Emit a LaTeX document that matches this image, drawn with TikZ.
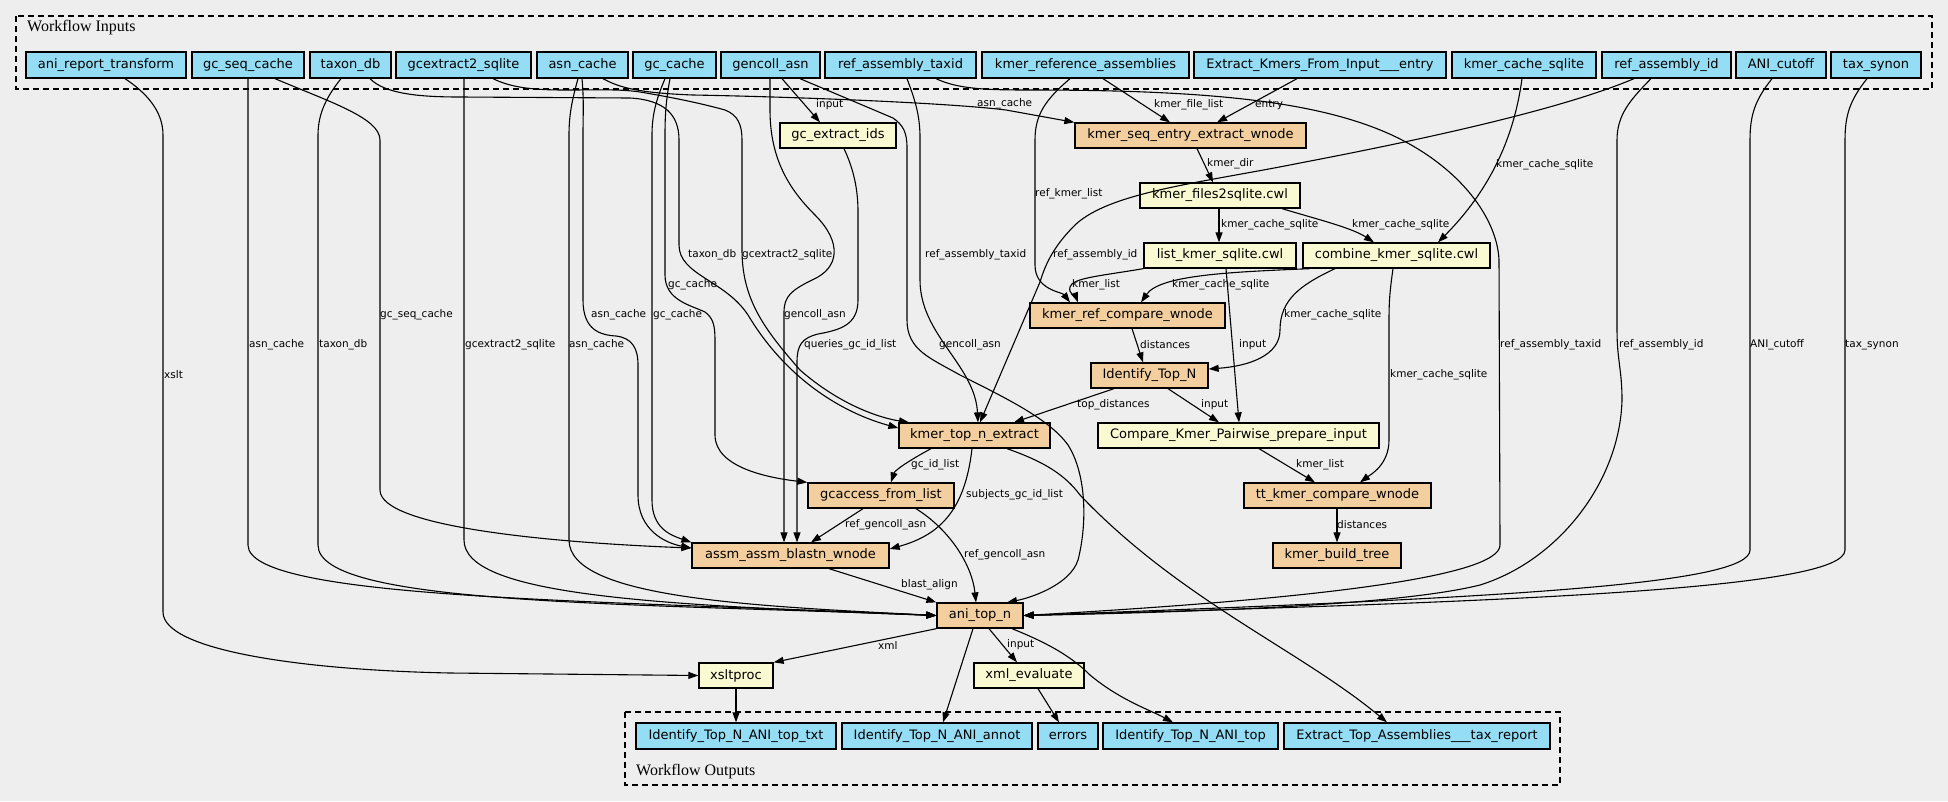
\documentclass[tikz,border=0pt]{standalone}
\usepackage{fontspec}
\setmainfont{DejaVu Sans}
\newfontfamily\clusfont{Liberation Serif}
\usetikzlibrary{arrows.meta}
\definecolor{bgc}{HTML}{EEEEEE}
\definecolor{inb}{HTML}{94DDF4}
\definecolor{stc}{HTML}{F3CF9F}
\definecolor{tlc}{HTML}{FAFAD2}
\begin{document}
\begin{tikzpicture}[x=1pt,y=-1pt,
  nb/.style={draw=black,line width=1.3pt,inner sep=0pt,minimum height=25pt,font=\fontsize{13}{15}\selectfont},
  inp/.style={nb,fill=inb,minimum height=26pt},
  stp/.style={nb,fill=stc},
  tl/.style={nb,fill=tlc},
  e/.style={line width=1.1pt,-{Triangle[length=10pt,width=7pt]}},
  lb/.style={font=\fontsize{10.5}{12}\selectfont,inner sep=0pt,anchor=west},
  cl/.style={line width=1.2pt,dash pattern=on 6pt off 4pt},
  cll/.style={font=\clusfont\fontsize{16}{18}\selectfont,anchor=west,inner sep=0pt}]
\useasboundingbox (0,0) rectangle (1948,801);
\fill[bgc] (0,0) rectangle (1948,801);
% clusters
\draw[cl] (16,16) rectangle (1932,89);
\node[cll] (cin) at (27,28) {Workflow Inputs};
\draw[cl] (625,712) rectangle (1560,785);
\node[cll] (cout) at (636,772) {Workflow Outputs};
% inputs
\node[inp,minimum width=160pt] (in1) at (106,65) {ani\_report\_transform};
\node[inp,minimum width=112pt] (in2) at (248,65) {gc\_seq\_cache};
\node[inp,minimum width=81pt] (in3) at (350.5,65) {taxon\_db};
\node[inp,minimum width=135pt] (in4) at (463.5,65) {gcextract2\_sqlite};
\node[inp,minimum width=91pt] (in5) at (582.5,65) {asn\_cache};
\node[inp,minimum width=83pt] (in6) at (674.5,65) {gc\_cache};
\node[inp,minimum width=99pt] (in7) at (770.5,65) {gencoll\_asn};
\node[inp,minimum width=151pt] (in8) at (900.5,65) {ref\_assembly\_taxid};
\node[inp,minimum width=207pt] (in9) at (1085.5,65) {kmer\_reference\_assemblies};
\node[inp,minimum width=252pt] (in10) at (1320,65) {Extract\_Kmers\_From\_Input\_\_\_entry};
\node[inp,minimum width=144pt] (in11) at (1524,65) {kmer\_cache\_sqlite};
\node[inp,minimum width=129pt] (in12) at (1666.5,65) {ref\_assembly\_id};
\node[inp,minimum width=90pt] (in13) at (1781,65) {ANI\_cutoff};
\node[inp,minimum width=90pt] (in14) at (1876,65) {tax\_synon};
% steps
\node[tl,minimum width=116pt] (gce) at (838,135.5) {gc\_extract\_ids};
\node[stp,minimum width=231pt] (kse) at (1190.5,135.5) {kmer\_seq\_entry\_extract\_wnode};
\node[tl,minimum width=160pt] (kf2) at (1220,195.5) {kmer\_files2sqlite.cwl};
\node[tl,minimum width=152pt] (lks) at (1220,255.5) {list\_kmer\_sqlite.cwl};
\node[tl,minimum width=187pt] (comb) at (1396.5,255.5) {combine\_kmer\_sqlite.cwl};
\node[stp,minimum width=195pt] (krc) at (1127.5,315.5) {kmer\_ref\_compare\_wnode};
\node[stp,minimum width=117pt] (itn) at (1149.5,375.5) {Identify\_Top\_N};
\node[stp,minimum width=151pt] (kte) at (974.5,435.5) {kmer\_top\_n\_extract};
\node[tl,minimum width=281pt] (cmp) at (1238.5,435.5) {Compare\_Kmer\_Pairwise\_prepare\_input};
\node[stp,minimum width=146pt] (gca) at (881,495.5) {gcaccess\_from\_list};
\node[stp,minimum width=187pt] (tt) at (1337.5,495.5) {tt\_kmer\_compare\_wnode};
\node[stp,minimum width=197pt] (assm) at (790.5,555.5) {assm\_assm\_blastn\_wnode};
\node[stp,minimum width=128pt] (kbt) at (1337,555.5) {kmer\_build\_tree};
\node[stp,minimum width=86pt] (ani) at (980,615.5) {ani\_top\_n};
\node[tl,minimum width=74pt] (xsl) at (736,675.5) {xsltproc};
\node[tl,minimum width=110pt] (xmle) at (1029,675.5) {xml\_evaluate};
% outputs
\node[inp,minimum width=200pt] (o1) at (736,736) {Identify\_Top\_N\_ANI\_top\_txt};
\node[inp,minimum width=190pt] (o2) at (937,736) {Identify\_Top\_N\_ANI\_annot};
\node[inp,minimum width=60pt] (o3) at (1068,736) {errors};
\node[inp,minimum width=175pt] (o4) at (1190.5,736) {Identify\_Top\_N\_ANI\_top};
\node[inp,minimum width=266pt] (o5) at (1417,736) {Extract\_Top\_Assemblies\_\_\_tax\_report};
% edges from inputs
\draw[e] (in1.south -| 125,0) .. controls (145,92) and (163,110) .. (163,135) -- (163,612) .. controls (163,650) and (300,670) .. (450,673) -- (xsl.west);
\draw[e] (in2.south) -- (248,545) .. controls (248,600) and (600,600) .. (ani.west);
\draw[e] (in2.south -| 275,0) .. controls (330,102) and (380,118) .. (380,140) -- (380,490) .. controls (380,528) and (560,543) .. (assm.west |- 0,548);
\draw[e] (in3.south -| 341,0) .. controls (328,95) and (318,112) .. (318,135) -- (318,545) .. controls (318,605) and (620,603) .. (ani.west);
\draw[e] (in3.south -| 370,0) .. controls (385,94) and (420,97) .. (460,97) -- (630,98) .. controls (665,100) and (679,115) .. (679,140) -- (679,245) .. controls (679,275) and (725,280) .. (748,315) .. controls (790,385) and (850,415) .. (kte.west |- 0,428);
\draw[e] (in4.south -| 464,0) -- (464,540) .. controls (464,595) and (650,605) .. (ani.west);
\draw[e] (in4.south -| 493,0) .. controls (510,87) and (530,90) .. (565,90) .. controls (600,90) and (620,89) .. (640,92) .. controls (670,97) and (700,103) .. (725,110) .. controls (738,115) and (742,125) .. (742,140) -- (742,250) .. controls (742,300) and (765,330) .. (800,370) .. controls (840,405) and (880,418) .. (kte.north -| 909,0);
\draw[e] (in5.south -| 603,0) .. controls (620,88) and (640,93) .. (693,95) .. controls (800,97) and (950,103) .. (1006,110) -- (kse.north west);
\draw[e] (in5.south -| 578,0) .. controls (572,100) and (569,115) .. (569,135) -- (569,540) .. controls (569,598) and (750,606) .. (ani.west);
\draw[e] (in5.south -| 582,0) .. controls (584,100) and (583,115) .. (583,135) -- (583,300) .. controls (583,330) and (600,335) .. (616,336) .. controls (632,338) and (638,348) .. (638,365) -- (638,495) .. controls (638,530) and (665,543) .. (assm.west |- 0,548);
\draw[e] (in6.south -| 670,0) .. controls (666,100) and (665,115) .. (665,135) -- (665,275) .. controls (665,300) and (690,305) .. (705,312) .. controls (713,318) and (715,325) .. (715,340) -- (715,435) .. controls (715,468) and (770,478) .. (gca.north west);
\draw[e] (in6.south -| 665,0) .. controls (656,100) and (652,115) .. (652,135) -- (652,500) .. controls (652,528) and (670,535) .. (assm.north west);
\draw[e] (in7.south -| 782,0) -- (gce.north -| 820,0);
\draw[e] (in7.south -| 770,0) -- (770,110) .. controls (770,160) and (790,190) .. (815,215) .. controls (842,242) and (840,268) .. (812,280) .. controls (792,290) and (784,296) .. (784,312) -- (assm.north -| 784,0);
\draw[e] (gce.south -| 844,0) .. controls (854,170) and (858,190) .. (858,212) -- (858,300) .. controls (858,325) and (840,330) .. (818,334) .. controls (802,338) and (797,345) .. (797,362) -- (assm.north -| 797,0);
\draw[e] (in7.south -| 800,0) -- (893,118) .. controls (903,125) and (907,132) .. (907,148) -- (907,320) .. controls (907,350) and (930,358) .. (960,375) .. controls (1010,400) and (1050,420) .. (1068,445) .. controls (1087,475) and (1087,525) .. (1078,560) .. controls (1070,585) and (1030,598) .. (ani.north -| 1007,0);
\draw[e] (in8.south -| 907,0) .. controls (915,100) and (920,115) .. (920,138) -- (920,280) .. controls (920,335) and (975,365) .. (kte.north -| 978,0);
\draw[e] (in8.south -| 936,0) .. controls (958,89) and (985,90) .. (1030,90) .. controls (1200,90) and (1310,100) .. (1385,132) .. controls (1455,162) and (1497,215) .. (1499,260) -- (1500,545) .. controls (1500,578) and (1300,600) .. (ani.east);
\draw[e] (in9.south -| 1070,0) .. controls (1045,100) and (1035,115) .. (1035,140) -- (1035,265) .. controls (1035,290) and (1062,292) .. (krc.north -| 1070,0);
\draw[e] (in9.south -| 1103,0) -- (kse.north -| 1170,0);
\draw[e] (in10.south -| 1297,0) -- (kse.north -| 1217,0);
\draw[e] (in11.south -| 1522,0) .. controls (1515,130) and (1495,185) .. (comb.north -| 1438,0);
\draw[e] (in12.south -| 1634,0) .. controls (1560,110) and (1420,140) .. (1300,163) .. controls (1200,183) and (1110,192) .. (1075,225) .. controls (1055,245) and (1046,262) .. (1040,282) -- (kte.north -| 980,0);
\draw[e] (in12.south -| 1651,0) .. controls (1630,100) and (1617,115) .. (1617,140) -- (1617,330) .. controls (1617,360) and (1622,370) .. (1622,400) .. controls (1620,480) and (1560,560) .. (1480,585) .. controls (1400,605) and (1200,612) .. (ani.east);
\draw[e] (in13.south -| 1772,0) .. controls (1755,100) and (1750,115) .. (1750,140) -- (1750,550) .. controls (1750,585) and (1500,598) .. (ani.east);
\draw[e] (in14.south -| 1867,0) .. controls (1850,100) and (1845,115) .. (1845,140) -- (1845,550) .. controls (1845,590) and (1500,602) .. (ani.east);
% internal edges
\draw[e] (kse.south -| 1197,0) -- (kf2.north -| 1213,0);
\draw[e] (kf2.south -| 1219,0) -- (lks.north -| 1219,0);
\draw[e] (kf2.south -| 1282,0) .. controls (1320,220) and (1352,228) .. (comb.north -| 1374,0);
\draw[e] (lks.south west) .. controls (1100,276) and (1072,278) .. (1070,287) .. controls (1068,294) and (1076,297) .. (krc.north -| 1078,0);
\draw[e] (lks.south -| 1226,0) -- (cmp.north -| 1239,0);
\draw[e] (comb.south -| 1310,0) .. controls (1230,272) and (1160,275) .. (krc.north -| 1141,0);
\draw[e] (comb.south -| 1335,0) .. controls (1300,285) and (1280,300) .. (1280,330) .. controls (1280,355) and (1250,366) .. (itn.east |- 0,369);
\draw[e] (comb.south -| 1393,0) .. controls (1390,290) and (1389,300) .. (1389,320) -- (1389,440) .. controls (1389,465) and (1370,475) .. (tt.north -| 1360,0);
\draw[e] (krc.south -| 1132,0) -- (itn.north -| 1143,0);
\draw[e] (itn.south -| 1114,0) -- (kte.north -| 1014,0);
\draw[e] (itn.south -| 1168,0) -- (cmp.north -| 1219,0);
\draw[e] (cmp.south -| 1259,0) -- (tt.north -| 1315,0);
\draw[e] (tt.south -| 1337,0) -- (kbt.north -| 1337,0);
\draw[e] (kte.south -| 931,0) .. controls (910,460) and (895,470) .. (gca.north -| 891,0);
\draw[e] (kte.south -| 972,0) .. controls (965,510) and (940,535) .. (assm.east |- 0,549);
\draw[e] (kte.south -| 1007,0) .. controls (1045,462) and (1065,475) .. (1080,495) .. controls (1180,600) and (1300,650) .. (o5.north -| 1387,0);
\draw[e] (gca.south -| 863,0) -- (assm.north -| 811,0);
\draw[e] (gca.south -| 916,0) .. controls (950,530) and (972,565) .. (ani.north -| 976,0);
\draw[e] (assm.south -| 829,0) -- (ani.north west);
\draw[e] (ani.south west) -- (xsl.north east);
\draw[e] (ani.south -| 973,0) -- (o2.north -| 943,0);
\draw[e] (ani.south -| 989,0) -- (xmle.north -| 1017,0);
\draw[e] (ani.south -| 1012,0) .. controls (1045,642) and (1070,655) .. (1090,675) .. controls (1120,700) and (1150,710) .. (o4.north -| 1173,0);
\draw[e] (xsl.south) -- (o1.north);
\draw[e] (xmle.south -| 1038,0) -- (o3.north -| 1059,0);
% labels
\node[lb] (l1) at (816,105) {input};
\node[lb] (l2) at (977,104) {asn\_cache};
\node[lb] (l3) at (1154,105) {kmer\_file\_list};
\node[lb] (l4) at (1255,105) {entry};
\node[lb] (l5) at (1207,164) {kmer\_dir};
\node[lb] (l6) at (1496,165) {kmer\_cache\_sqlite};
\node[lb] (l7) at (1035,194) {ref\_kmer\_list};
\node[lb] (l8) at (1221,225) {kmer\_cache\_sqlite};
\node[lb] (l9) at (1352,225) {kmer\_cache\_sqlite};
\node[lb] (l10) at (688,255) {taxon\_db};
\node[lb] (l11) at (742,255) {gcextract2\_sqlite};
\node[lb] (l12) at (925,255) {ref\_assembly\_taxid};
\node[lb] (l13) at (1053,255) {ref\_assembly\_id};
\node[lb] (l14) at (668,285) {gc\_cache};
\node[lb] (l15) at (1072,285) {kmer\_list};
\node[lb] (l16) at (1172,285) {kmer\_cache\_sqlite};
\node[lb] (l17) at (380,315) {gc\_seq\_cache};
\node[lb] (l18) at (591,315) {asn\_cache};
\node[lb] (l19) at (653,315) {gc\_cache};
\node[lb] (l20) at (784,315) {gencoll\_asn};
\node[lb] (l21) at (1284,315) {kmer\_cache\_sqlite};
\node[lb] (l22) at (249,345) {asn\_cache};
\node[lb] (l23) at (319,345) {taxon\_db};
\node[lb] (l24) at (465,345) {gcextract2\_sqlite};
\node[lb] (l25) at (569,345) {asn\_cache};
\node[lb] (l26) at (804,345) {queries\_gc\_id\_list};
\node[lb] (l27) at (939,345) {gencoll\_asn};
\node[lb] (l28) at (1140,345) {distances};
\node[lb] (l29) at (1239,345) {input};
\node[lb] (l30) at (1500,345) {ref\_assembly\_taxid};
\node[lb] (l31) at (1619,345) {ref\_assembly\_id};
\node[lb] (l32) at (1750,345) {ANI\_cutoff};
\node[lb] (l33) at (1845,345) {tax\_synon};
\node[lb] (l34) at (164,375) {xslt};
\node[lb] (l35) at (1390,375) {kmer\_cache\_sqlite};
\node[lb] (l36) at (1077,405) {top\_distances};
\node[lb] (l37) at (1201,405) {input};
\node[lb] (l38) at (911,465) {gc\_id\_list};
\node[lb] (l39) at (1296,465) {kmer\_list};
\node[lb] (l40) at (966,495) {subjects\_gc\_id\_list};
\node[lb] (l41) at (845,525) {ref\_gencoll\_asn};
\node[lb] (l42) at (1337,525) {distances};
\node[lb] (l43) at (964,555) {ref\_gencoll\_asn};
\node[lb] (l44) at (901,585) {blast\_align};
\node[lb] (l45) at (878,645) {xml};
\node[lb] (l46) at (1007,645) {input};
\end{tikzpicture}
\end{document}
